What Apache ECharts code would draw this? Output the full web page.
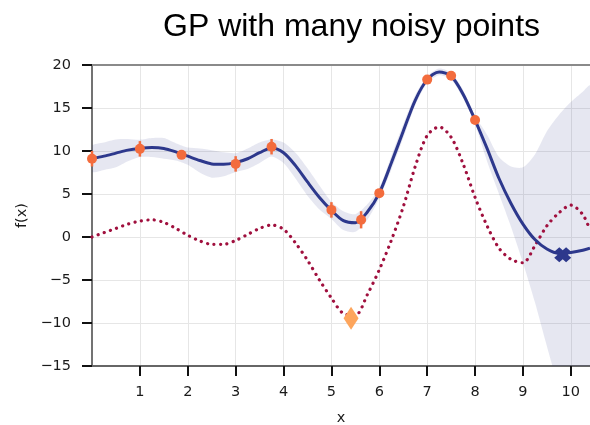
<!DOCTYPE html>
<html>
<head>
<meta charset="utf-8">
<script src="https://cdn.jsdelivr.net/npm/echarts@6/dist/echarts.min.js"></script>
<style>
html, body { margin: 0; padding: 0; background: #fff; }
#chart { width: 590px; height: 425px; }
</style>
</head>
<body>
<div id="chart"></div>
<script>
// sample grid along x
var xs = [0, 0.25, 0.5, 0.75, 1, 1.25, 1.5, 1.75, 2, 2.25, 2.5, 2.75, 3, 3.25, 3.5, 3.75,
    4, 4.25, 4.5, 4.75, 5, 5.25, 5.5, 5.75, 6, 6.25, 6.5, 6.75, 7, 7.25, 7.5, 7.75,
    8, 8.25, 8.5, 8.75, 9, 9.25, 9.5, 9.75, 10, 10.25, 10.4];

// GP posterior mean
var meanY = [9.1, 9.4, 9.75, 10.1, 10.3, 10.4, 10.3, 9.9, 9.4, 8.9, 8.5, 8.45, 8.65, 9.1, 9.8, 10.35,
    9.8, 8.3, 6.4, 4.6, 3.1, 1.9, 1.65, 2.9, 5.1, 8.6, 12.3, 15.9, 18.3, 19.2, 18.7, 16.6,
    13.6, 10.3, 6.8, 3.9, 1.5, -0.3, -1.4, -1.9, -1.8, -1.55, -1.3];

// confidence band
var bandHigh = [10.6, 11.0, 11.35, 11.4, 11.3, 11.5, 11.5, 10.9, 10.4, 10.3, 10.1, 9.85, 9.75, 10.3, 11.0, 11.35,
    11.0, 9.8, 8.0, 6.0, 4.1, 3.0, 2.65, 3.8, 5.7, 9.4, 13.1, 16.5, 18.7, 19.6, 19.1, 17.1,
    14.1, 11.9, 9.3, 8.2, 8.1, 9.6, 12.3, 14.2, 15.7, 16.9, 17.6];
var bandLow = [7.6, 7.8, 8.1, 8.8, 9.3, 9.3, 9.1, 8.9, 8.4, 7.5, 6.9, 7.05, 7.55, 7.9, 8.6, 9.35,
    8.6, 6.8, 4.8, 3.2, 2.1, 0.8, 0.6, 2.0, 4.5, 7.8, 11.5, 15.3, 17.9, 18.8, 18.3, 16.1,
    13.1, 8.8, 5.0, 1.2, -3.0, -7.6, -12.7, -17.5, -21, -23, -24];

// dotted curve
var acqY = [0.0, 0.5, 1.0, 1.5, 1.85, 2.0, 1.7, 1.0, 0.2, -0.45, -0.85, -0.85, -0.4, 0.3, 1.0, 1.4,
    0.9, -0.7, -2.7, -5.0, -7.1, -8.9, -9.1, -6.7, -3.8, -0.4, 3.5, 8.2, 11.8, 12.8, 11.6, 8.5,
    4.6, 1.3, -1.3, -2.6, -3.0, -1.0, 1.3, 2.8, 3.7, 2.6, 0.8];

// noisy observations
var obsX = [0, 1, 1.87, 3.0, 3.75, 5.0, 5.62, 6.0, 7.0, 7.5, 8.0];
var obsY = [9.1, 10.25, 9.55, 8.5, 10.5, 3.15, 2.0, 5.1, 18.3, 18.75, 13.6];
var obsErr = [0.9, 0.9, 0.4, 0.9, 0.9, 0.9, 1.0, 0.3, 0.3, 0.3, 0.3];

// special markers
var nextPoint = [5.41, -9.45];
var bestPoint = [9.83, -2.05];

var xTicks = [1, 2, 3, 4, 5, 6, 7, 8, 9, 10];

var labelFont = 'DejaVu Sans';
var orange = '#f36c3d';
var navy = '#2d388c';

function pairs(ys) {
    return xs.map(function (x, i) { return [x, ys[i]]; });
}

var myChart = echarts.init(document.getElementById('chart'));

var option = {
    animation: false,
    backgroundColor: '#fff',
    title: {
        text: 'GP with many noisy points',
        left: 158,
        top: 6,
        textStyle: {
            fontFamily: 'Liberation Sans',
            fontSize: 32,
            fontWeight: 'normal',
            color: '#000'
        }
    },
    grid: {
        left: 92,
        right: 0,
        top: 65,
        bottom: 59,
        outerBoundsMode: 'none'
    },
    xAxis: [{
        type: 'value',
        min: 0,
        max: 10.4,
        interval: 1,
        name: 'x',
        nameLocation: 'middle',
        nameGap: 45,
        nameTextStyle: {fontFamily: labelFont, fontSize: 14.5, color: '#1a1a1a'},
        axisLine: {onZero: false, lineStyle: {color: '#666', width: 2}},
        axisTick: {show: true, inside: false, length: 10, customValues: xTicks,
            lineStyle: {color: '#111', width: 2}},
        axisLabel: {customValues: xTicks, margin: 19, fontFamily: labelFont, fontSize: 14.5, color: '#1a1a1a',
            formatter: function (v) { return v === 0 ? '' : String(v); }},
        splitLine: {show: true, lineStyle: {color: '#e6e6e6', width: 1}}
    }, {
        type: 'value',
        position: 'top',
        min: 0,
        max: 10.4,
        axisLine: {show: true, onZero: false, lineStyle: {color: '#8a8a8a', width: 2}},
        axisTick: {show: false},
        axisLabel: {show: false},
        splitLine: {show: false}
    }],
    yAxis: {
        type: 'value',
        min: -15,
        max: 20,
        interval: 5,
        name: 'f(x)',
        nameLocation: 'middle',
        nameGap: 62,
        nameTextStyle: {fontFamily: labelFont, fontSize: 14.5, color: '#1a1a1a'},
        axisLine: {show: true, onZero: false, lineStyle: {color: '#444', width: 1.5}},
        axisTick: {show: true, inside: false, length: 10, lineStyle: {color: '#111', width: 2}},
        axisLabel: {margin: 21, fontFamily: labelFont, fontSize: 14.5, color: '#1a1a1a',
            formatter: function (v) { return String(v).replace('-', '\u2212'); }},
        splitLine: {show: true, lineStyle: {color: '#e6e6e6', width: 1}}
    },
    series: [
        {
            // confidence band as one smoothed polygon
            type: 'custom',
            clip: true,
            renderItem: function (params, api) {
                var pts = [];
                for (var i = 0; i < xs.length; i++) {
                    pts.push(api.coord([xs[i], bandHigh[i]]));
                }
                for (var j = xs.length - 1; j >= 0; j--) {
                    pts.push(api.coord([xs[j], bandLow[j]]));
                }
                return {
                    type: 'polygon',
                    shape: {points: pts, smooth: 0.25},
                    style: {fill: 'rgba(47,58,143,0.12)', stroke: null}
                };
            },
            data: [[0, 0]],
            z: 1
        },
        {
            type: 'line',
            data: pairs(acqY),
            smooth: 0.3,
            symbol: 'none',
            lineStyle: {color: '#a0103e', width: 3.2, type: [0.1, 6.4], cap: 'round'},
            z: 2
        },
        {
            type: 'line',
            data: pairs(meanY),
            smooth: 0.3,
            symbol: 'none',
            lineStyle: {color: navy, width: 3},
            z: 3
        },
        {
            // error bars
            type: 'custom',
            renderItem: function (params, api) {
                var x = api.value(0), y = api.value(1), e = api.value(2);
                var p1 = api.coord([x, y - e]);
                var p2 = api.coord([x, y + e]);
                return {
                    type: 'line',
                    shape: {x1: p1[0], y1: p1[1], x2: p2[0], y2: p2[1]},
                    style: {stroke: orange, lineWidth: 2.5}
                };
            },
            data: obsX.map(function (x, i) { return [x, obsY[i], obsErr[i]]; }),
            z: 4
        },
        {
            type: 'scatter',
            data: obsX.map(function (x, i) { return [x, obsY[i]]; }),
            symbol: 'circle',
            symbolSize: 10,
            itemStyle: {color: orange, opacity: 1},
            z: 5
        },
        {
            type: 'scatter',
            data: [nextPoint],
            symbol: 'diamond',
            symbolSize: [15, 23],
            itemStyle: {color: '#fda55c', opacity: 1},
            z: 6
        },
        {
            type: 'scatter',
            data: [bestPoint],
            symbol: 'path://M3,0 L5,2 L7,0 L10,3 L8,5 L10,7 L7,10 L5,8 L3,10 L0,7 L2,5 L0,3 Z',
            symbolSize: [17, 15],
            itemStyle: {color: navy, opacity: 1},
            z: 6
        }
    ]
};

myChart.setOption(option);
window.addEventListener('resize', function () {
    myChart.resize();
});
</script>
</body>
</html>
